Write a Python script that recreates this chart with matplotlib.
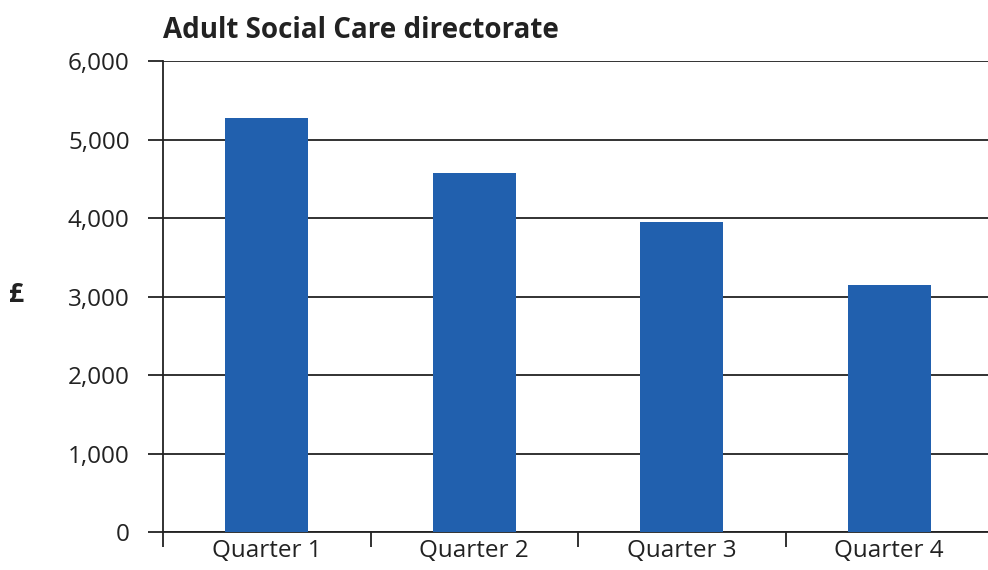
import numpy as np
import matplotlib.pyplot as plt
from matplotlib.ticker import FuncFormatter, FixedLocator

# quarterly spend, Adult Social Care directorate
quarters = ['Quarter 1', 'Quarter 2', 'Quarter 3', 'Quarter 4']
spend = [5273, 4572, 3955, 3145]
yticks = [0, 1000, 2000, 3000, 4000, 5000, 6000]

plt.rcParams['font.family'] = ['Open Sans', 'DejaVu Sans']

fig = plt.figure(figsize=(9.88, 5.70), dpi=100)
ax = fig.add_axes([163/988, 38/570, 830/988, 470.7/570])

x = np.arange(len(quarters))
ax.bar(x, spend, width=0.4, color='#2160ae', zorder=3)

ax.set_xlim(-0.5, len(quarters) - 0.5)
ax.set_ylim(0, 6000)
ax.set_yticks(yticks)
ax.yaxis.set_major_formatter(FuncFormatter(lambda v, p: f'{int(v):,}'))
ax.grid(axis='y', color='#222222', linewidth=1.3, zorder=1)

# category boundaries get the tick marks, labels sit between them
ax.xaxis.set_major_locator(FixedLocator(np.arange(len(quarters) + 1) - 0.5))
ax.xaxis.set_minor_locator(FixedLocator(x))
ax.set_xticklabels([])
ax.set_xticklabels(quarters, minor=True)
ax.tick_params(axis='x', which='major', length=11, width=1.3, color='#222222')
ax.tick_params(axis='x', which='minor', length=0, labelsize=17.5, pad=5, labelcolor='#222222')
ax.tick_params(axis='y', length=11, width=1.3, color='#222222', labelsize=17.5, pad=13, labelcolor='#222222')

for s in ['top', 'right']:
    ax.spines[s].set_visible(False)
ax.spines['left'].set_color('#222222')
ax.spines['left'].set_linewidth(1.3)
ax.spines['bottom'].set_color('#222222')
ax.spines['bottom'].set_linewidth(1.3)

fig.text(163/988, 1 - 38/570, 'Adult Social Care directorate', fontsize=20,
         fontweight='bold', ha='left', va='baseline', color='#222222')
fig.text(17/988, 1 - 302/570, '£', fontsize=19, fontweight='bold',
         ha='center', va='baseline', color='#222222')

fig.savefig('out.png', dpi=100, facecolor='white')
